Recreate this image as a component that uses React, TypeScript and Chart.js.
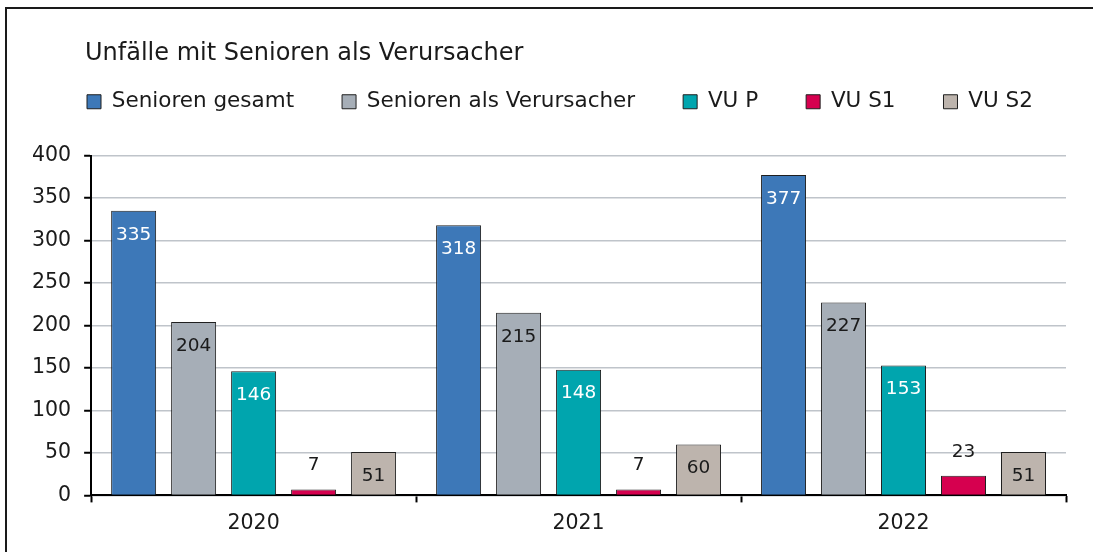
import React, { useEffect, useRef } from "react";
import { Chart, registerables } from "chart.js";

Chart.register(...registerables);

const chartTitle = "Unfälle mit Senioren als Verursacher";
const years = ["2020", "2021", "2022"];
const seniorenGesamt = [335, 318, 377];
const seniorenVerursacher = [204, 215, 227];
const vuP = [146, 148, 153];
const vuS1 = [7, 7, 23];
const vuS2 = [51, 60, 51];
const seriesNames = ["Senioren gesamt", "Senioren als Verursacher", "VU P", "VU S1", "VU S2"];
const seriesValues = [seniorenGesamt, seniorenVerursacher, vuP, vuS1, vuS2];
const seriesColors = ["#3D78B8", "#A6AEB7", "#00A5AE", "#D6004F", "#BDB4AD"];
const labelColors = ["#ffffff", "#1a1a1a", "#ffffff", "#1a1a1a", "#1a1a1a"];
const yMin = 0;
const yMax = 400;
const yStep = 50;

const FONT = "'DejaVu Sans', 'Noto Sans', sans-serif";
const LEGEND_PADDING = 48;
const LEGEND_START_X = 87;

const dataLabelPlugin = {
  id: "dataLabels",
  afterDatasetsDraw(chart: any) {
    const ctx = chart.ctx;
    ctx.save();
    ctx.font = `18.5px ${FONT}`;
    ctx.textAlign = "center";
    ctx.textBaseline = "middle";
    chart.data.datasets.forEach((ds: any, di: number) => {
      const meta = chart.getDatasetMeta(di);
      meta.data.forEach((el: any, i: number) => {
        const v = ds.data[i];
        const h = el.base - el.y;
        if (h > 40) {
          ctx.fillStyle = labelColors[di];
          ctx.fillText(String(v), el.x, el.y + 24);
        } else {
          ctx.fillStyle = "#1a1a1a";
          ctx.fillText(String(v), el.x, el.y - 24);
        }
      });
    });
    ctx.restore();
  },
};

const legendSpacer = {
  id: "legendSpacer",
  beforeInit(chart: any) {
    const legend = chart.legend;
    if (!legend) return;
    const origFit = legend.fit;
    legend.fit = function () {
      origFit.call(this);
      this.height += 33;
    };
  },
  afterLayout(chart: any) {
    const legend = chart.legend;
    if (!legend) return;
    const shift = LEGEND_START_X - (legend.left + LEGEND_PADDING);
    legend.left += shift;
    legend.right += shift;
  },
};

export default function App() {
  const ref = useRef<HTMLCanvasElement | null>(null);

  useEffect(() => {
    if (!ref.current) return;
    const chart = new Chart(ref.current, {
      type: "bar",
      data: {
        labels: years,
        datasets: seriesNames.map((name, i) => ({
          label: name,
          data: seriesValues[i],
          backgroundColor: seriesColors[i],
          borderColor: "#1f1f1f",
          borderWidth: 1,
          barPercentage: 0.75,
          categoryPercentage: 0.923,
        })),
      },
      options: {
        responsive: false,
        animation: false,
        layout: { padding: { left: 19, right: 27, top: 43, bottom: 7 } },
        plugins: {
          title: { display: false },
          tooltip: { enabled: false },
          legend: {
            display: true,
            position: "top",
            align: "start",
            labels: {
              boxWidth: 14,
              boxHeight: 14,
              padding: LEGEND_PADDING,
              color: "#1a1a1a",
              font: { family: FONT, size: 21.5 },
            },
          },
        },
        scales: {
          x: {
            offset: true,
            grid: {
              offset: true,
              drawOnChartArea: false,
              drawTicks: true,
              tickLength: 7,
              tickColor: "#000",
              tickWidth: 2,
            },
            border: { display: true, color: "#000", width: 2 },
            ticks: {
              color: "#1a1a1a",
              padding: 9,
              font: { family: FONT, size: 20.5 },
            },
          },
          y: {
            min: yMin,
            max: yMax,
            ticks: {
              stepSize: yStep,
              color: "#1a1a1a",
              padding: 13,
              font: { family: FONT, size: 20.5 },
            },
            grid: {
              color: "#BFC4CA",
              lineWidth: 1.5,
              tickLength: 7,
              tickColor: "#000",
              tickWidth: 2,
            },
            border: { display: true, color: "#000", width: 2 },
          },
        },
      },
      plugins: [dataLabelPlugin, legendSpacer],
    });
    return () => chart.destroy();
  }, []);

  return (
    <div style={{ position: "absolute", left: 0, top: 0, width: 1093, height: 552, background: "#fff", overflow: "hidden" }}>
      <div
        style={{
          position: "absolute",
          left: 5,
          top: 7,
          width: 1088,
          height: 545,
          borderTop: "2px solid #1a1a1a",
          borderLeft: "2px solid #1a1a1a",
          boxSizing: "border-box",
        }}
      />
      <canvas ref={ref} width={1093} height={552} style={{ position: "absolute", left: 0, top: 0 }} />
      <div
        style={{
          position: "absolute",
          left: 85,
          top: 36,
          fontFamily: FONT,
          fontSize: 24,
          lineHeight: "32px",
          color: "#1a1a1a",
          whiteSpace: "nowrap",
        }}
      >
        {chartTitle}
      </div>
    </div>
  );
}
